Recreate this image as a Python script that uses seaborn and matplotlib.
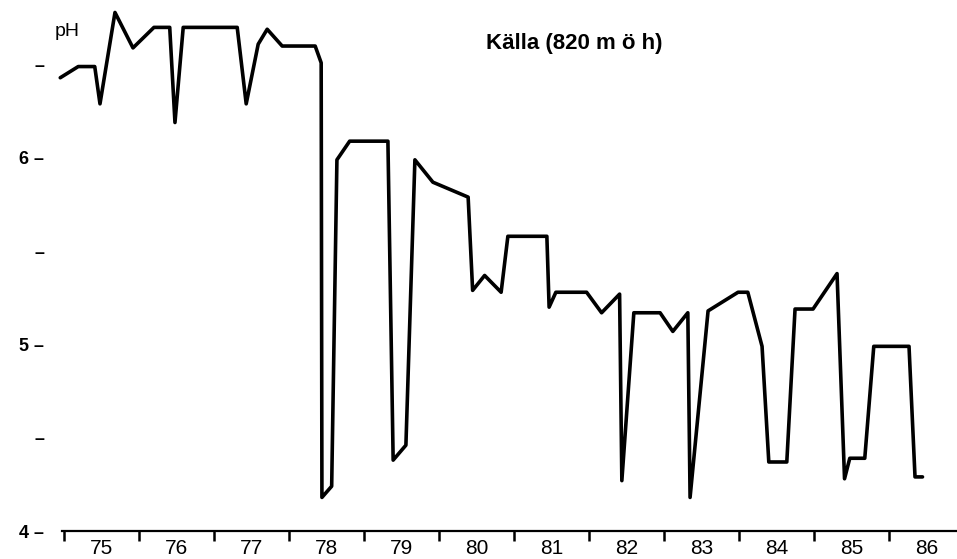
import matplotlib
matplotlib.use("Agg")
import matplotlib.pyplot as plt
import seaborn as sns
import pandas as pd

# Data (decimal year, pH)
years = [74.95, 75.19, 75.41, 75.48, 75.68, 75.92, 76.20, 76.41, 76.48, 76.59,
         77.31, 77.43, 77.59, 77.71, 77.91, 78.35, 78.43, 78.44, 78.57, 78.64,
         78.81, 79.32, 79.39, 79.56, 79.68, 79.92, 80.39, 80.45, 80.61, 80.83,
         80.92, 81.44, 81.47, 81.56, 81.97, 82.17, 82.41, 82.44, 82.60, 82.95,
         83.12, 83.32, 83.35, 83.59, 83.99, 84.12, 84.31, 84.40, 84.64, 84.75,
         84.99, 85.31, 85.41, 85.48, 85.68, 85.80, 86.27, 86.35, 86.45]
ph = [6.43, 6.49, 6.49, 6.29, 6.78, 6.59, 6.70, 6.70, 6.19, 6.70,
      6.70, 6.29, 6.61, 6.69, 6.60, 6.60, 6.51, 4.18, 4.24, 5.99,
      6.09, 6.09, 4.38, 4.46, 5.99, 5.87, 5.79, 5.29, 5.37, 5.28,
      5.58, 5.58, 5.20, 5.28, 5.28, 5.17, 5.27, 4.27, 5.17, 5.17,
      5.07, 5.17, 4.18, 5.18, 5.28, 5.28, 4.99, 4.37, 4.37, 5.19,
      5.19, 5.38, 4.28, 4.39, 4.39, 4.99, 4.99, 4.29, 4.29]

year_ticks = list(range(75, 87))
year_labels = [str(y) for y in year_ticks]
ph_ticks = [4, 4.5, 5, 5.5, 6, 6.5]
ph_labels = ["4 \u2013", "\u2013", "5 \u2013", "\u2013", "6 \u2013", "\u2013"]
title = "Källa (820 m ö h)"
ylabel = "pH"

sns.set_style("white")
plt.rcParams["font.family"] = ["Liberation Sans", "DejaVu Sans"]

fig = plt.figure(figsize=(9.57, 5.59), dpi=100)
ax = fig.add_axes([55 / 957, 28 / 559, 1 - 55 / 957, (531 - 5) / 559])

df = pd.DataFrame({"year": years, "pH": ph})
sns.lineplot(data=df, x="year", y="pH", sort=False, estimator=None,
             color="black", linewidth=2.6, ax=ax)

ax.set_xlim(74.88, 86.91)
ax.set_ylim(4.0, 6.82)

for s in ["top", "right", "left"]:
    ax.spines[s].set_visible(False)
ax.spines["bottom"].set_bounds(74.97, 86.91)
ax.spines["bottom"].set_linewidth(1.6)
ax.spines["bottom"].set_color("black")

ax.set_xticks(year_ticks)
ax.set_xticklabels([""] * len(year_ticks))
ax.set_xticks([y + 0.5 for y in year_ticks], minor=True)
ax.set_xticklabels(year_labels, minor=True)
ax.tick_params(axis="x", which="major", direction="out", length=7, width=1.8,
               color="black", bottom=True)
ax.tick_params(axis="x", which="minor", length=0, pad=6, labelsize=15,
               labelcolor="black", bottom=True)

ax.set_yticks(ph_ticks)
ax.set_yticklabels(ph_labels, fontsize=13, fontweight="bold")
ax.tick_params(axis="y", length=0, pad=8, labelcolor="black", left=True)

ax.set_xlabel("")
ax.set_ylabel("")
ax.grid(False)

ax.text(55 / 957, 1 - 31 / 559, ylabel, transform=fig.transFigure,
        fontsize=14, va="center", ha="left", color="black")
ax.text(574 / 957, 1 - 44 / 559, title, transform=fig.transFigure,
        fontsize=16, fontweight="bold", va="center", ha="center", color="black")

fig.savefig("out.png", dpi=100, facecolor="white")
